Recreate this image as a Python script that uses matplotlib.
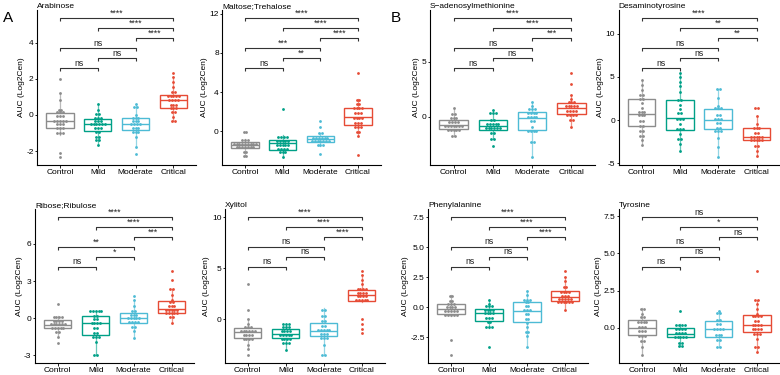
import numpy as np
import matplotlib
matplotlib.use("Agg")
import matplotlib.pyplot as plt

plt.rcParams['font.family'] = ['Liberation Sans', 'DejaVu Sans']

groups = ["Control", "Mild", "Moderate", "Critical"]
colors = ["#8C8C8C", "#00A087", "#4DBBD5", "#E64B35"]
pairs = [(1, 2), (2, 3), (1, 3), (3, 4), (2, 4), (1, 4)]

titles = ["Arabinose", "Maltose;Trehalose", "S\u2212adenosylmethionine", "Desaminotyrosine",
          "Ribose;Ribulose", "Xylitol", "Phenylalanine", "Tyrosine"]

arabinose = [
    [2.0, 1.2, 0.85, 0.3, 0.3, 0.2, 0.1, 0.1, 0.0, -0.1, -0.1, -0.3, -0.3, -0.35, -0.4, -0.4, -0.45,
     -0.6, -0.6, -0.7, -0.8, -0.8, -0.95, -1.1, -1.1, -2.1, -2.35],
    [0.6, 0.3, 0.1, 0.0, -0.1, -0.1, -0.2, -0.25, -0.3, -0.4, -0.45, -0.5, -0.5, -0.55, -0.6, -0.6,
     -0.7, -0.8, -0.8, -0.9, -1.0, -1.2, -1.2, -1.4, -1.4, -1.65],
    [0.6, 0.5, 0.35, 0.0, -0.1, -0.1, -0.2, -0.3, -0.3, -0.4, -0.45, -0.5, -0.55, -0.6, -0.7, -0.8,
     -0.8, -0.9, -1.0, -1.0, -1.2, -1.75, -2.15],
    [2.35, 2.1, 1.85, 1.55, 1.3, 1.2, 1.1, 1.05, 1.0, 1.0, 0.95, 0.9, 0.85, 0.8, 0.75, 0.65, 0.6,
     0.5, 0.45, 0.4, 0.3, 0.2, 0.1, -0.1, -0.35, -0.35],
]
maltose = [
    [0.0, -0.05, -0.8, -0.9, -1.0, -1.1, -1.1, -1.2, -1.3, -1.3, -1.35, -1.35, -1.4, -1.4, -1.45,
     -1.5, -1.5, -1.6, -1.7, -1.7, -1.75, -2.1, -2.2, -2.5, -2.6],
    [2.3, -0.4, -0.5, -0.6, -0.7, -0.8, -0.9, -1.0, -1.0, -1.1, -1.2, -1.2, -1.3, -1.4, -1.5, -1.7,
     -1.8, -1.9, -1.9, -2.0, -2.3, -2.3, -2.65],
    [1.1, 0.4, -0.15, -0.2, -0.5, -0.5, -0.55, -0.6, -0.7, -0.75, -0.8, -0.8, -0.85, -0.9, -1.0,
     -1.05, -1.1, -1.2, -1.5, -1.5, -2.3],
    [6.0, 3.35, 3.1, 2.9, 2.7, 2.5, 2.4, 2.4, 2.2, 2.0, 1.8, 1.7, 1.5, 1.4, 1.4, 1.2, 1.0, 0.9, 0.7,
     0.6, 0.5, 0.3, 0.0, -0.1, -0.45, -2.4],
]
sam = [
    [0.75, 0.3, 0.15, 0.0, -0.1, -0.2, -0.3, -0.4, -0.5, -0.6, -0.7, -0.7, -0.75, -0.8, -0.9, -1.0,
     -1.0, -1.1, -1.2, -1.3, -1.3, -1.4, -1.8, -1.8],
    [0.6, 0.5, 0.3, 0.2, -0.25, -0.3, -0.5, -0.6, -0.7, -0.75, -0.8, -0.9, -0.9, -1.0, -1.1, -1.2,
     -1.2, -1.3, -1.6, -2.0, -2.0, -2.7],
    [1.35, 1.0, 0.8, 0.7, 0.6, 0.5, 0.4, 0.3, 0.2, 0.1, 0.0, -0.1, -0.15, -0.3, -0.5, -0.9, -1.2,
     -1.3, -1.4, -1.4, -2.3, -2.3, -3.7],
    [4.0, 3.0, 2.0, 1.6, 1.5, 1.3, 1.2, 1.1, 1.0, 0.9, 0.85, 0.8, 0.7, 0.6, 0.5, 0.4, 0.3, 0.2, 0.2,
     0.0, -0.2, -0.5, -0.9],
]
desaminotyrosine = [
    [4.6, 4.1, 3.5, 3.0, 2.9, 2.5, 2.4, 2.0, 1.4, 1.0, 0.9, 0.8, 0.7, 0.5, 0.4, 0.0, -0.3, -0.6,
     -0.7, -1.2, -1.2, -1.8, -1.8, -2.3, -2.9],
    [5.5, 5.0, 4.4, 3.9, 3.3, 2.4, 2.3, 1.8, 1.3, 0.9, 0.7, 0.2, 0.2, 0.1, -0.4, -0.9, -1.0, -1.2,
     -1.6, -2.1, -2.2, -2.7, -3.6],
    [3.6, 3.6, 2.6, 1.6, 1.5, 1.3, 1.2, 0.7, 0.5, 0.2, 0.0, 0.0, -0.3, -0.4, -0.8, -1.0, -1.1, -1.1,
     -1.4, -2.1, -3.1, -4.3],
    [1.4, 1.4, 0.5, -0.4, -0.8, -0.8, -0.9, -1.4, -1.6, -1.8, -1.9, -2.0, -2.0, -2.1, -2.2, -2.3,
     -2.3, -2.4, -2.5, -2.9, -3.0, -3.6, -4.2],
]
ribose = [
    [1.15, 0.2, 0.2, 0.1, 0.0, -0.1, -0.2, -0.3, -0.3, -0.4, -0.5, -0.5, -0.55, -0.6, -0.6, -0.7,
     -0.8, -0.8, -0.9, -0.9, -1.0, -1.2, -1.5, -2.0],
    [0.6, 0.6, 0.6, 0.6, 0.6, 0.2, 0.2, 0.0, -0.1, -0.3, -0.4, -0.4, -0.5, -0.8, -0.8, -1.2, -1.2,
     -1.5, -1.6, -1.6, -1.9, -3.0, -3.0],
    [1.8, 1.45, 1.0, 0.7, 0.5, 0.4, 0.3, 0.2, 0.1, 0.0, 0.0, -0.1, -0.1, -0.2, -0.3, -0.4, -0.4,
     -0.6, -0.75, -1.05, -1.6],
    [3.8, 3.1, 2.4, 2.3, 1.9, 1.5, 1.4, 1.2, 1.0, 1.0, 0.9, 0.8, 0.75, 0.7, 0.7, 0.6, 0.5, 0.4,
     0.35, 0.3, 0.3, 0.2, 0.0, -0.35],
]
xylitol = [
    [3.4, 0.9, 0.0, -0.5, -0.7, -0.9, -0.9, -1.0, -1.1, -1.2, -1.2, -1.3, -1.3, -1.4, -1.5, -1.6,
     -1.7, -1.8, -1.9, -2.1, -2.1, -2.5, -2.9, -3.55],
    [-0.5, -0.5, -0.5, -0.6, -0.8, -0.9, -1.0, -1.2, -1.2, -1.3, -1.4, -1.45, -1.5, -1.6, -1.7, -1.8,
     -1.8, -1.9, -2.1, -2.2, -2.3, -2.5, -3.0],
    [1.05, 0.75, 0.4, 0.3, 0.0, -0.3, -0.5, -0.8, -1.0, -1.1, -1.2, -1.2, -1.2, -1.3, -1.5, -1.6,
     -1.7, -1.8, -2.0, -2.5, -3.5, -3.5],
    [4.7, 4.3, 3.8, 3.4, 3.1, 3.0, 2.9, 2.8, 2.7, 2.6, 2.5, 2.45, 2.4, 2.3, 2.2, 2.1, 2.0, 1.9, 1.8,
     1.8, 1.7, 0.0, -0.5, -1.0, -1.4],
]
phenylalanine = [
    [1.05, 0.85, 0.6, 0.5, 0.4, 0.3, 0.2, 0.1, 0.0, 0.0, -0.1, -0.15, -0.2, -0.2, -0.3, -0.4, -0.5,
     -0.6, -0.7, -0.7, -0.75, -2.7, -4.0],
    [0.6, 0.3, 0.2, 0.1, 0.0, -0.1, -0.2, -0.2, -0.3, -0.4, -0.4, -0.5, -0.6, -0.8, -0.9, -1.0, -1.2,
     -1.3, -1.6, -1.7, -1.7, -3.3],
    [1.35, 1.0, 0.6, 0.6, 0.6, 0.5, 0.3, 0.2, 0.0, -0.2, -0.3, -0.3, -0.5, -0.7, -0.9, -1.0, -1.3,
     -1.6, -2.0, -2.1, -2.4, -3.3],
    [3.0, 2.55, 2.2, 1.75, 1.7, 1.4, 1.35, 1.3, 1.2, 1.0, 1.0, 0.9, 0.85, 0.8, 0.75, 0.7, 0.6, 0.55,
     0.5, 0.5, 0.4, 0.3, 0.3, -0.2],
]
tyrosine = [
    [1.35, 1.15, 0.9, 0.8, 0.6, 0.5, 0.5, 0.3, 0.3, 0.1, 0.0, 0.0, -0.1, -0.2, -0.3, -0.5, -0.5,
     -0.6, -0.9, -0.9, -1.3, -1.85],
    [1.1, 0.25, 0.2, 0.2, 0.1, 0.0, 0.0, -0.1, -0.2, -0.3, -0.4, -0.4, -0.45, -0.5, -0.5, -0.6, -0.6,
     -0.7, -1.0, -1.0, -1.2, -1.25],
    [1.15, 1.1, 0.9, 0.55, 0.5, 0.3, 0.2, 0.0, -0.1, -0.1, -0.2, -0.4, -0.6, -0.6, -0.7, -0.9, -1.3,
     -1.3],
    [3.8, 1.85, 1.85, 1.6, 1.25, 0.95, 0.9, 0.85, 0.8, 0.7, 0.5, 0.45, 0.3, 0.2, 0.2, 0.1, 0.0, -0.1,
     -0.1, -0.2, -0.3, -0.4, -0.5, -0.75, -1.3, -1.3, -1.6],
]
panels_data = [arabinose, maltose, sam, desaminotyrosine, ribose, xylitol, phenylalanine, tyrosine]

signif = [
    ["ns", "ns", "ns", "****", "****", "****"],
    ["ns", "**", "***", "****", "****", "****"],
    ["ns", "ns", "ns", "***", "****", "****"],
    ["ns", "ns", "ns", "**", "**", "****"],
    ["ns", "*", "**", "***", "****", "****"],
    ["ns", "ns", "ns", "****", "****", "****"],
    ["ns", "ns", "ns", "****", "****", "****"],
    ["ns", "ns", "ns", "ns", "*", "ns"],
]
yticks = [
    [-2, 0, 2, 4],
    [0, 4, 8, 12],
    [0, 5],
    [-5, 0, 5, 10],
    [-3, 0, 3, 6],
    [0, 5, 10],
    [-2.5, 0.0, 2.5, 5.0, 7.5],
    [0.0, 2.5, 5.0, 7.5],
]
ytick_labels = [
    ["-2", "0", "2", "4"],
    ["0", "4", "8", "12"],
    ["0", "5"],
    ["-5", "0", "5", "10"],
    ["-3", "0", "3", "6"],
    ["0", "5", "10"],
    ["-2.5", "0.0", "2.5", "5.0", "7.5"],
    ["0.0", "2.5", "5.0", "7.5"],
]

W, H = 780, 375
fig = plt.figure(figsize=(W / 100, H / 100), dpi=100)

# axes boxes in pixels: (left, right, top, bottom)
boxes_px = [
    (37.3, 196.0, 10, 165), (222.4, 380.6, 10, 165), (430.0, 595.0, 10, 165), (618.5, 779.5, 10, 165),
    (35.0, 194.4, 209, 363), (225.0, 384.5, 209, 363), (428.3, 587.7, 209, 363), (619.3, 779.7, 209, 363),
]

dot_px = 2.8
ms = (dot_px * 0.72) ** 2

for k, (data, (l, r, t, b)) in enumerate(zip(panels_data, boxes_px)):
    ax = fig.add_axes([l / W, 1 - b / H, (r - l) / W, (b - t) / H])
    allv = np.concatenate([np.array(g, float) for g in data])
    vmin, vmax = allv.min(), allv.max()
    R = vmax - vmin
    levels = [vmax + R * (0.05 + 0.118 * i) for i in range(6)]
    T = levels[-1] - vmin
    ylo, yhi = vmin - 0.055 * T, levels[-1] + 0.06 * T
    ax.set_xlim(0.4, 4.6)
    ax.set_ylim(ylo, yhi)

    # boxplots
    bp = ax.boxplot([np.array(g, float) for g in data], positions=[1, 2, 3, 4], widths=0.72,
                    showfliers=False, patch_artist=True, showcaps=False, zorder=1)
    for i, c in enumerate(colors):
        bp['boxes'][i].set(facecolor='white', edgecolor=c, linewidth=1.0)
        bp['medians'][i].set(color=c, linewidth=1.0)
        for w in bp['whiskers'][2 * i:2 * i + 2]:
            w.set(color=c, linewidth=0.9, alpha=0.6)

    # dot plot (binned, centred stacks)
    xu_per_px = 4.2 / (r - l)
    yu_per_px = (yhi - ylo) / (b - t)
    bw = 3.4 * yu_per_px
    for i, (g, c) in enumerate(zip(data, colors)):
        vals = np.sort(np.array(g, float))
        j = 0
        while j < len(vals):
            start = vals[j]
            m = j
            while m < len(vals) and vals[m] < start + bw:
                m += 1
            binv = vals[j:m]
            yc = (binv[0] + binv[-1]) / 2
            n = len(binv)
            offs = (np.arange(n) - (n - 1) / 2) * dot_px * xu_per_px
            ax.scatter(i + 1 + offs, np.full(n, yc), s=ms, color=c, linewidths=0, zorder=3)
            j = m

    # significance brackets
    tip = 0.02 * (yhi - ylo)
    for (a, bb), lab, y in zip(pairs, signif[k], levels):
        ax.plot([a, a, bb, bb], [y - tip, y, y, y - tip], color='#333333', lw=0.8,
                solid_capstyle='butt', zorder=2)
        ax.text((a + bb) / 2, y + 0.2 * tip, lab, ha='center', va='bottom',
                fontsize=6.3, color='#222222')

    ax.set_xticks([1, 2, 3, 4])
    ax.set_xticklabels(groups)
    ax.set_yticks(yticks[k])
    ax.set_yticklabels(ytick_labels[k])
    ax.tick_params(axis='both', labelsize=6, length=1.8, width=0.6, pad=0.8, colors='black')
    ax.set_ylabel("AUC (Log2Cen)", fontsize=6, labelpad=1)
    for s in ['top', 'right']:
        ax.spines[s].set_visible(False)
    for s in ['left', 'bottom']:
        ax.spines[s].set_linewidth(0.8)
    ax.set_title(titles[k], fontsize=6, loc='left', pad=1)

fig.text(8 / W, 1 - 18 / H, "A", fontsize=11, ha='center', va='center')
fig.text(396 / W, 1 - 18 / H, "B", fontsize=11, ha='center', va='center')

fig.savefig("out.png", dpi=100)
